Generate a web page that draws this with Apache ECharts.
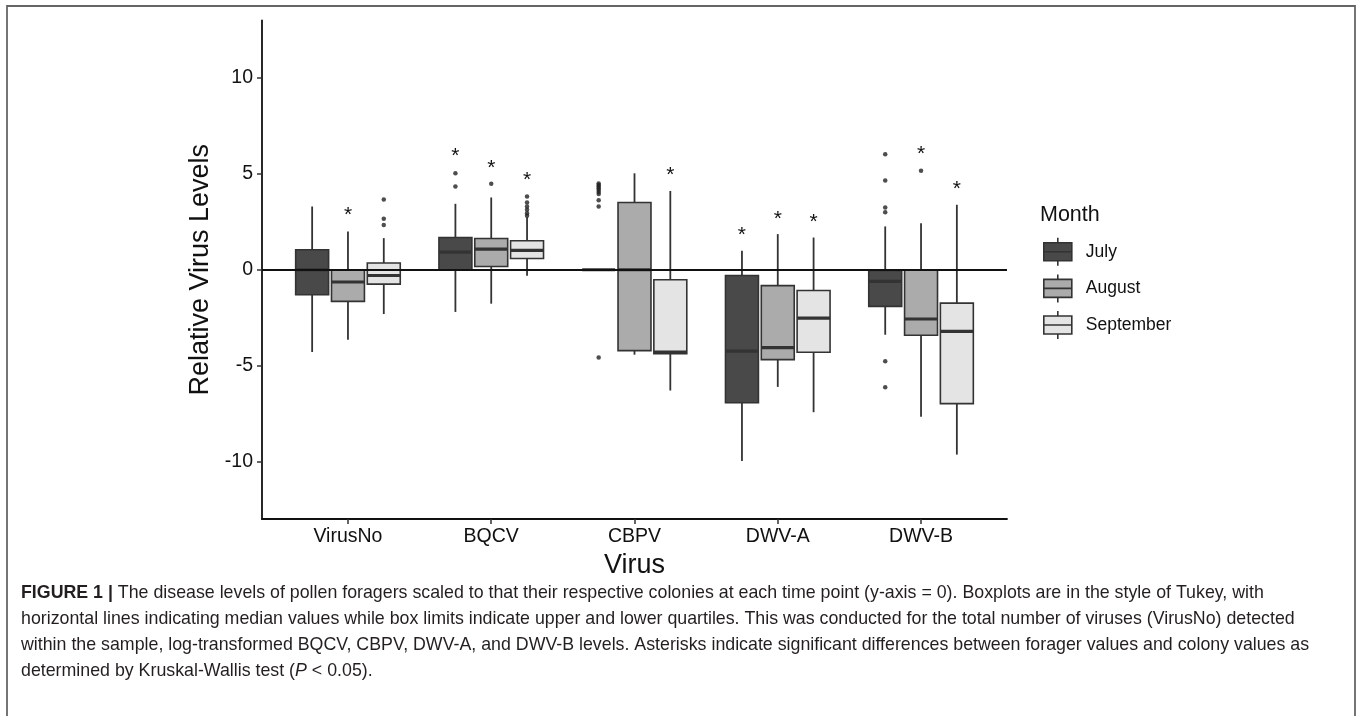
<!DOCTYPE html>
<html>
<head>
<meta charset="utf-8">
<script src="https://cdn.jsdelivr.net/npm/echarts@6/dist/echarts.min.js"></script>
<style>
  html, body { margin: 0; padding: 0; background: #fff; }
  #chart { width: 1360px; height: 716px; }
</style>
</head>
<body>
<div id="chart"></div>
<script>
// categories
const viruses = ['VirusNo', 'BQCV', 'CBPV', 'DWV-A', 'DWV-B'];
const months = ['July', 'August', 'September'];
const yTicks = [-10, -5, 0, 5, 10];

// [lower whisker, Q1, median, Q3, upper whisker] per virus
const julyStats = [
  [-4.29, -1.30, 0.00, 1.04, 3.30],
  [-2.20, 0.00, 0.92, 1.68, 3.44],
  [0.00, 0.00, 0.00, 0.00, 0.00],
  [-9.98, -6.94, -4.24, -0.30, 0.99],
  [-3.39, -1.91, -0.61, -0.03, 2.26]
];
const augustStats = [
  [-3.65, -1.65, -0.64, 0.00, 2.00],
  [-1.77, 0.17, 1.08, 1.63, 3.77],
  [-4.43, -4.22, 0.00, 3.51, 5.03],
  [-6.11, -4.69, -4.06, -0.83, 1.86],
  [-7.67, -3.42, -2.57, 0.00, 2.43]
];
const septemberStats = [
  [-2.31, -0.75, -0.30, 0.35, 1.65],
  [-0.31, 0.59, 1.01, 1.51, 2.74],
  [-6.30, -4.38, -4.30, -0.52, 4.11],
  [-7.43, -4.30, -2.52, -1.08, 1.68],
  [-9.64, -6.98, -3.21, -1.74, 3.39]
];

// outliers: [virus index, value]
const julyOutliers = [
  [1, 5.03], [1, 4.34],
  [2, 4.50], [2, 4.42], [2, 4.34], [2, 4.25], [2, 4.16], [2, 4.05], [2, 3.95], [2, 3.62], [2, 3.30], [2, -4.58],
  [4, 6.02], [4, 4.65], [4, 3.25], [4, 3.00], [4, -4.77], [4, -6.13]
];
const augustOutliers = [
  [1, 4.48],
  [4, 5.17]
];
const septemberOutliers = [
  [0, 3.66], [0, 2.66], [0, 2.33],
  [1, 3.82], [1, 3.51], [1, 3.30], [1, 3.13], [1, 2.95], [1, 2.81]
];

// asterisk heights (null = no significant difference)
const julyStars = [null, 6.11, null, 2.00, null];
const augustStars = [3.04, 5.50, null, 2.86, 6.25];
const septemberStars = [null, 4.86, 5.12, 2.69, 4.43];

const fills = ['#494949', '#ababab', '#e4e4e4'];
const offsets = [-0.25, 0, 0.25];
const boxWidth = 0.23;
const lineColor = '#333333';

const chart = echarts.init(document.getElementById('chart'));

function boxRender(offset, fill) {
  return function (params, api) {
    const x = api.value(0) + offset;
    const lo = api.coord([x, api.value(1)]);
    const q1 = api.coord([x, api.value(2)]);
    const med = api.coord([x, api.value(3)]);
    const q3 = api.coord([x, api.value(4)]);
    const hi = api.coord([x, api.value(5)]);
    const half = api.size([boxWidth, 0])[0] / 2;
    const cx = lo[0];
    const wStyle = { stroke: lineColor, lineWidth: 1.8 };
    return {
      type: 'group',
      children: [
        { type: 'line', shape: { x1: cx, y1: q3[1], x2: cx, y2: hi[1] }, style: wStyle },
        { type: 'line', shape: { x1: cx, y1: q1[1], x2: cx, y2: lo[1] }, style: wStyle },
        {
          type: 'rect',
          shape: { x: cx - half, y: q3[1], width: half * 2, height: Math.max(q1[1] - q3[1], 0.5) },
          style: { fill: fill, stroke: lineColor, lineWidth: 1.6 }
        },
        { type: 'line', shape: { x1: cx - half, y1: med[1], x2: cx + half, y2: med[1] }, style: { stroke: lineColor, lineWidth: 3.2 } }
      ]
    };
  };
}

function starRender(offset) {
  return function (params, api) {
    const p = api.coord([api.value(0) + offset, api.value(1)]);
    return {
      type: 'text',
      style: {
        text: '*', x: p[0], y: p[1] + 4, fontSize: 21, fill: '#111',
        fontFamily: 'Liberation Sans', align: 'center', verticalAlign: 'middle'
      }
    };
  };
}

const statSets = [julyStats, augustStats, septemberStats];
const outlierSets = [julyOutliers, augustOutliers, septemberOutliers];
const starSets = [julyStars, augustStars, septemberStars];

const series = [];
months.forEach((m, k) => {
  series.push({
    name: m,
    type: 'custom',
    renderItem: boxRender(offsets[k], fills[k]),
    itemStyle: { color: fills[k], borderColor: lineColor },
    encode: { x: 0, y: [1, 2, 3, 4, 5] },
    data: statSets[k].map((s, i) => [i + 1].concat(s)),
    z: 2
  });
});
months.forEach((m, k) => {
  series.push({
    name: m + ' outliers',
    type: 'scatter',
    symbolSize: 4.5,
    itemStyle: { color: '#222' },
    data: outlierSets[k].map(d => [d[0] + 1 + offsets[k], d[1]]),
    z: 3
  });
  series.push({
    name: m + ' significance',
    type: 'custom',
    renderItem: starRender(offsets[k]),
    data: starSets[k].map((v, i) => [i + 1, v]).filter(d => d[1] !== null),
    z: 3
  });
});
// reference line at colony level (y = 0)
series.push({
  name: 'colony',
  type: 'line',
  data: [],
  markLine: {
    silent: true,
    symbol: 'none',
    label: { show: false },
    lineStyle: { color: '#111', width: 2, type: 'solid' },
    data: [{ yAxis: 0 }]
  },
  z: 4
});

const keyIcon = 'path://M14,0 V5 M0,5 H28 V23 H0 Z M0,14 H28 M14,23 V28';

const option = {
  animation: false,
  backgroundColor: '#fff',
  textStyle: { fontFamily: 'Liberation Sans' },
  title: {
    text: 'Month',
    left: 1035,
    top: 199,
    textStyle: { fontSize: 21.5, fontWeight: 'normal', color: '#111', fontFamily: 'Liberation Sans' }
  },
  legend: {
    orient: 'vertical',
    left: 1038,
    top: 232,
    itemWidth: 28,
    itemHeight: 28,
    itemGap: 7,
    selectedMode: false,
    textStyle: { fontSize: 17.5, color: '#111', padding: [0, 0, 0, 9] },
    data: months.map((m, k) => ({
      name: m,
      icon: keyIcon,
      itemStyle: { color: fills[k], borderColor: lineColor, borderWidth: 1.6 }
    }))
  },
  grid: { left: 262, right: 353, top: 20.5, bottom: 197 },
  xAxis: {
    type: 'value',
    min: 0.4,
    max: 5.6,
    name: 'Virus',
    nameLocation: 'middle',
    nameGap: 29,
    nameTextStyle: { fontSize: 27, color: '#111' },
    axisLine: { show: true, onZero: false, lineStyle: { color: '#111', width: 1.8 } },
    axisTick: { show: true, length: 5, customValues: [1, 2, 3, 4, 5], lineStyle: { color: '#333', width: 1.5 } },
    axisLabel: {
      customValues: [1, 2, 3, 4, 5],
      formatter: v => viruses[Math.round(v) - 1],
      fontSize: 19.5, color: '#111', margin: 8
    },
    splitLine: { show: false }
  },
  yAxis: {
    type: 'value',
    min: -13,
    max: 13,
    name: 'Relative Virus Levels',
    nameLocation: 'middle',
    nameGap: 43,
    nameTextStyle: { fontSize: 27, color: '#111' },
    axisLine: { show: true, lineStyle: { color: '#111', width: 1.8 } },
    axisTick: { show: true, length: 5, customValues: yTicks, lineStyle: { color: '#333', width: 1.5 } },
    axisLabel: { customValues: yTicks, fontSize: 19.5, color: '#111', margin: 9 },
    splitLine: { show: false }
  },
  graphic: [
    {
      type: 'rect',
      shape: { x: 7, y: 6, width: 1348, height: 740 },
      style: { fill: 'none', stroke: '#666', lineWidth: 1.8 },
      silent: true
    },
    {
      type: 'text',
      left: 21,
      top: 580,
      style: {
        text: '{b|FIGURE 1 |} The disease levels of pollen foragers scaled to that their respective colonies at each time point (y-axis = 0). Boxplots are in the style of Tukey, with\n' +
          'horizontal lines indicating median values while box limits indicate upper and lower quartiles. This was conducted for the total number of viruses (VirusNo) detected\n' +
          'within the sample, log-transformed BQCV, CBPV, DWV-A, and DWV-B levels. Asterisks indicate significant differences between forager values and colony values as\n' +
          'determined by Kruskal-Wallis test ({i|P} < 0.05).',
        fontSize: 17.8,
        lineHeight: 26,
        fill: '#231f20',
        fontFamily: 'Liberation Sans',
        rich: {
          b: { fontWeight: 'bold', fontSize: 17.8, lineHeight: 26, fill: '#231f20', fontFamily: 'Liberation Sans' },
          i: { fontStyle: 'italic', fontSize: 17.8, lineHeight: 26, fill: '#231f20', fontFamily: 'Liberation Sans' }
        }
      }
    }
  ],
  series: series
};

chart.setOption(option);
</script>
</body>
</html>
